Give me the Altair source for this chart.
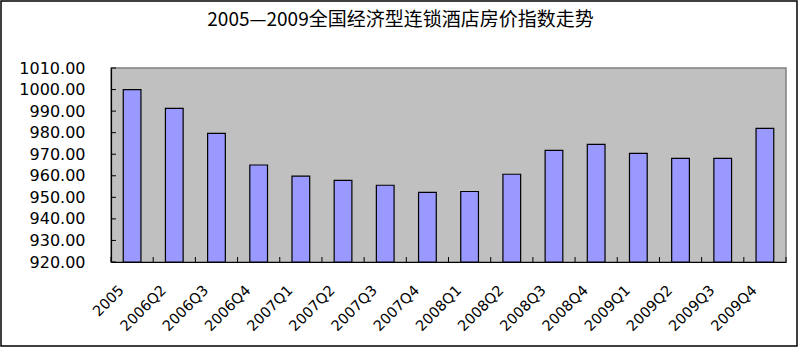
import altair as alt
import pandas as pd

categories = ["2005", "2006Q2", "2006Q3", "2006Q4", "2007Q1", "2007Q2", "2007Q3", "2007Q4",
              "2008Q1", "2008Q2", "2008Q3", "2008Q4", "2009Q1", "2009Q2", "2009Q3", "2009Q4"]
values = [1000.0, 991.3, 979.7, 965.0, 959.8, 957.9, 955.6, 952.3,
          952.7, 960.7, 971.8, 974.6, 970.4, 968.1, 968.1, 982.0]
y_ticks = [920, 930, 940, 950, 960, 970, 980, 990, 1000, 1010]
title_text = "2005—2009全国经济型连锁酒店房价指数走势"

W, H = 675, 194
FONT = "Noto Sans CJK SC"
NUMFONT = "DejaVu Sans"

df = pd.DataFrame({"cat": categories, "val": values})
tick_df = pd.DataFrame({"v": y_ticks})

xscale = alt.Scale(domain=categories, paddingInner=0, paddingOuter=0)
yscale = alt.Scale(domain=[920, 1010], zero=False, nice=False)

xaxis = alt.Axis(labelAngle=-45, ticks=False, labelPadding=21, labelOffset=-15,
                 labelFontSize=14.5, labelFont=NUMFONT, labelColor="black",
                 domainColor="black", domainWidth=1.2, labelOverlap=False, grid=False)
yaxis = alt.Axis(values=y_ticks, format=".2f", ticks=False, labelPadding=26,
                 labelFontSize=16, labelFont=NUMFONT, labelColor="black",
                 domainColor="black", domainWidth=1.2, grid=False)

bars = alt.Chart(df).mark_bar(
    width=alt.RelativeBandSize(0.42), fill="#9999FF", stroke="black", strokeWidth=1.2
).encode(
    x=alt.X("cat:N", sort=None, scale=xscale, title=None, axis=xaxis),
    y=alt.Y("val:Q", scale=yscale, title=None, axis=yaxis),
    y2=alt.datum(920),
)

xticks = alt.Chart(df).mark_rule(color="black", strokeWidth=1).encode(
    x=alt.X("cat:N", sort=None, scale=xscale, bandPosition=0, title=None, axis=xaxis),
    y=alt.value(H), y2=alt.value(H - 5),
)
xtick_end = alt.Chart(df.head(1)).mark_rule(color="black", strokeWidth=1).encode(
    x=alt.value(W), y=alt.value(H), y2=alt.value(H - 5),
)
yticks = alt.Chart(tick_df).mark_rule(color="black", strokeWidth=1).encode(
    y=alt.Y("v:Q", scale=yscale, title=None, axis=yaxis),
    x=alt.value(0), x2=alt.value(5),
)
border = alt.Chart(df.head(1)).mark_rect(fill=None, fillOpacity=0, stroke="black", strokeWidth=1.5).encode(
    x=alt.value(-110), x2=alt.value(686), y=alt.value(-67), y2=alt.value(278),
)

chart = alt.layer(bars, xticks, xtick_end, yticks, border).properties(
    width=W, height=H,
    title=alt.TitleParams(title_text, font=FONT, fontSize=19, fontWeight="normal",
                          color="black", anchor="middle", dx=-48, offset=-30),
    autosize=alt.AutoSizeParams(type="none"),
    padding={"left": 111, "top": 68, "right": 16, "bottom": 89},
    background="white",
).configure_view(
    fill="#C0C0C0", stroke="#808080", strokeWidth=1.5
)

chart.save("out.html", embed_options={"renderer": "svg", "actions": False})
